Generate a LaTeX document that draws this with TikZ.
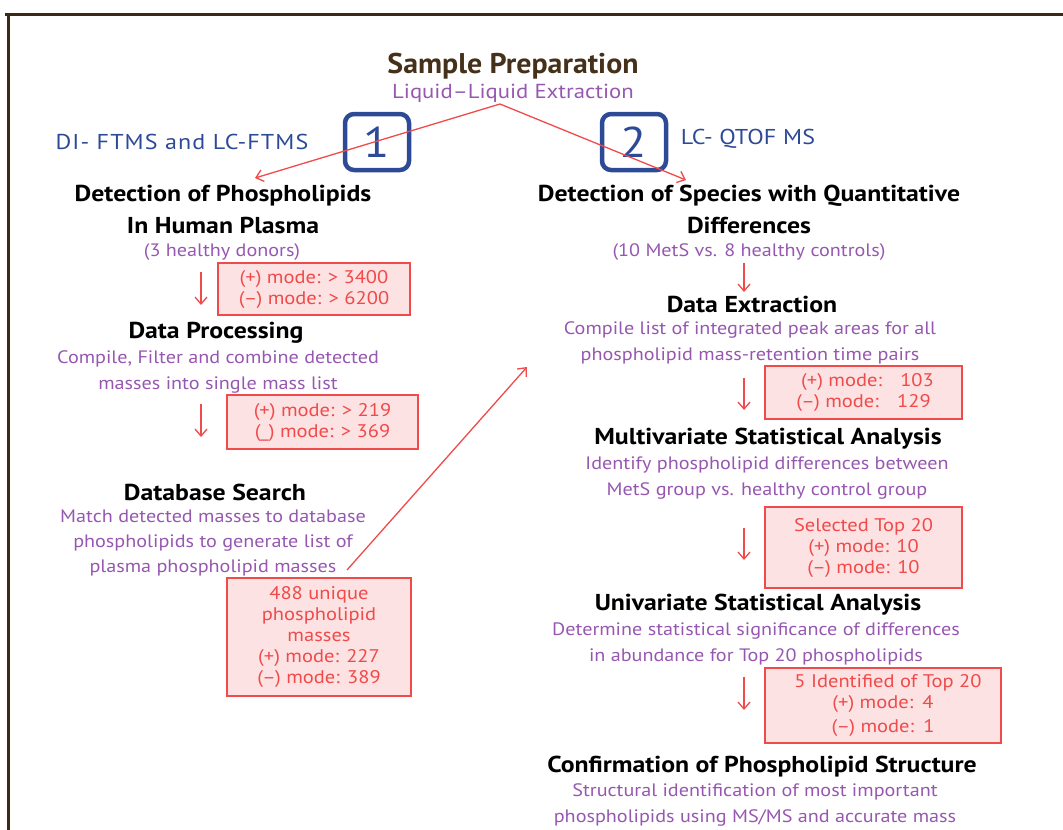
\documentclass[tikz,border=0pt]{standalone}
\usepackage{fontspec}
\setmainfont{PT Sans}[FakeStretch=1.12]
\usetikzlibrary{arrows.meta}
\definecolor{framebrown}{HTML}{3B2A1A}
\definecolor{titlebrown}{HTML}{45301A}
\definecolor{txtpurple}{HTML}{9657B0}
\definecolor{numblue}{HTML}{2D4A96}
\definecolor{boxred}{HTML}{F04A4A}
\definecolor{boxfill}{HTML}{FCE2E2}
\tikzset{
  head/.style={font=\fontsize{23}{32}\selectfont\bfseries, text=black, align=center, inner sep=0pt},
  note/.style={font=\fontsize{18}{25.5}\selectfont, text=txtpurple, align=center, inner sep=0pt},
  countbox/.style={draw=boxred, fill=boxfill, line width=1.6pt, inner sep=0pt,
    font=\fontsize{18.3}{21}\selectfont, text=boxred, align=center},
  numbox/.style={draw=numblue, line width=4.5pt, rounded corners=9pt, minimum width=64pt,
    minimum height=56pt, inner sep=0pt, text=numblue, font=\fontsize{43}{43}\selectfont},
  method/.style={text=numblue, font=\fontsize{21.5}{24}\selectfont\addfontfeature{LetterSpace=5}, inner sep=0pt},
  flow/.style={draw=boxred, line width=1.3pt, -{Straight Barb[length=7pt,width=12pt]}},
}
\begin{document}
\begin{tikzpicture}[x=1pt,y=-1pt]
\useasboundingbox (0,0) rectangle (1063,830);
% frame edges
\draw[framebrown, line width=3pt] (5,14) -- (1063,14);
\draw[framebrown, line width=3pt] (8,13) -- (8,830);

% method markers
\node[numbox] (m1) at (377,142) {1};
\node[numbox] (m2) at (634,142) {2};

\begin{scope}[shift={(0,2)}]
% title
\node[inner sep=0pt, text=titlebrown, font=\fontsize{28.5}{30}\selectfont\bfseries] (prep) at (513,64) {\scalebox{0.935}[1]{Sample Preparation}};
\node[note, font=\fontsize{20.3}{24}\selectfont] (lle) at (513,91) {Liquid--Liquid Extraction};

\node[method] (lab1) at (182,140) {DI- FTMS and LC-FTMS};
\node[method, font=\fontsize{21.5}{24}\selectfont\addfontfeature{LetterSpace=1}] (lab2) at (748,137) {LC- QTOF MS};

% left branch
\node[head] (h1) at (223,207) {Detection of Phospholipids\\In Human Plasma};
\node[note] (s1) at (222,250) {(3 healthy donors)};
\node[head] (h2) at (216,331) {Data Processing};
\node[note] (s2) at (218,370) {Compile, Filter and combine detected\\masses into single mass list};
\node[head] (h3) at (215,490) {Database Search};
\node[note, font=\fontsize{18}{25}\selectfont] (s3) at (213,541) {Match detected masses to database\\phospholipids to generate list of\\plasma phospholipid masses};

% right branch
\node[head] (h4) at (749,207) {Detection of Species with Quantitative\\Differences};
\node[note] (s4) at (749,250) {(10 MetS vs. 8 healthy controls)};
\node[head] (h5) at (752,302) {Data Extraction};
\node[note] (s5) at (750,341) {Compile list of integrated peak areas for all\\phospholipid mass-retention time pairs};
\node[head] (h6) at (768,437) {Multivariate Statistical Analysis};
\node[note] (s6) at (767,476) {Identify phospholipid differences between\\MetS group vs. healthy control group};
\node[head] (h7) at (758,603) {Univariate Statistical Analysis};
\node[note] (s7) at (756,642) {Determine statistical significance of differences\\in abundance for Top 20 phospholipids};
\node[head] (h8) at (762,765) {Confirmation of Phospholipid Structure};
\node[note] (s8) at (755,803) {Structural identification of most important\\phospholipids using MS/MS and accurate mass};
\end{scope}

% count boxes
\node[countbox, minimum width=192pt, minimum height=52pt] (b1) at (314,289) {(+) mode: > 3400\\(--) mode: > 6200};
\node[countbox, minimum width=191pt, minimum height=54pt] (b2) at (322.5,422) {(+) mode: > 219\\(\_) mode: > 369};
\node[countbox, minimum width=184pt, minimum height=118pt] (b3) at (319,637) {488 unique\\phospholipid\\masses\\(+) mode: 227\\(--) mode: 389};
\node[countbox, minimum width=197pt, minimum height=53pt] (b5) at (863.5,392.5) {\hspace*{8pt}(+) mode:\quad 103\\(--) mode:\quad 129};
\node[countbox, minimum width=197pt, minimum height=81pt] (b6) at (863.5,547.5) {Selected Top 20\\(+) mode: 10\\(--) mode: 10};
\node[countbox, minimum width=236pt, minimum height=75pt] (b7) at (883,705.5) {\hspace*{10pt}5 Identified of Top 20\\(+) mode:\enspace 4\\[3pt](--) mode:\enspace 1};

% connector ends
\coordinate (apex) at (500,104);
\coordinate (tipL) at (255,178);
\coordinate (tipR) at (686,180);
\coordinate (d1a) at (201,272); \coordinate (d1b) at (201,305);
\coordinate (d2a) at (201,404); \coordinate (d2b) at (201,437);
\coordinate (dbEnd) at (347,570); \coordinate (crossTip) at (527,367);
\coordinate (d4a) at (744,263); \coordinate (d4b) at (744,292);
\coordinate (d5a) at (744,378); \coordinate (d5b) at (744,410);
\coordinate (d6a) at (744,528); \coordinate (d6b) at (744,560);
\coordinate (d7a) at (744,677); \coordinate (d7b) at (744,710);

% connectors
\draw[flow] (apex) -- (tipL);
\draw[flow] (apex) -- (tipR);
\draw[flow] (d1a) -- (d1b);
\draw[flow] (d2a) -- (d2b);
\draw[flow] (dbEnd) -- (crossTip);
\draw[flow] (d4a) -- (d4b);
\draw[flow] (d5a) -- (d5b);
\draw[flow] (d6a) -- (d6b);
\draw[flow] (d7a) -- (d7b);
\end{tikzpicture}
\end{document}
